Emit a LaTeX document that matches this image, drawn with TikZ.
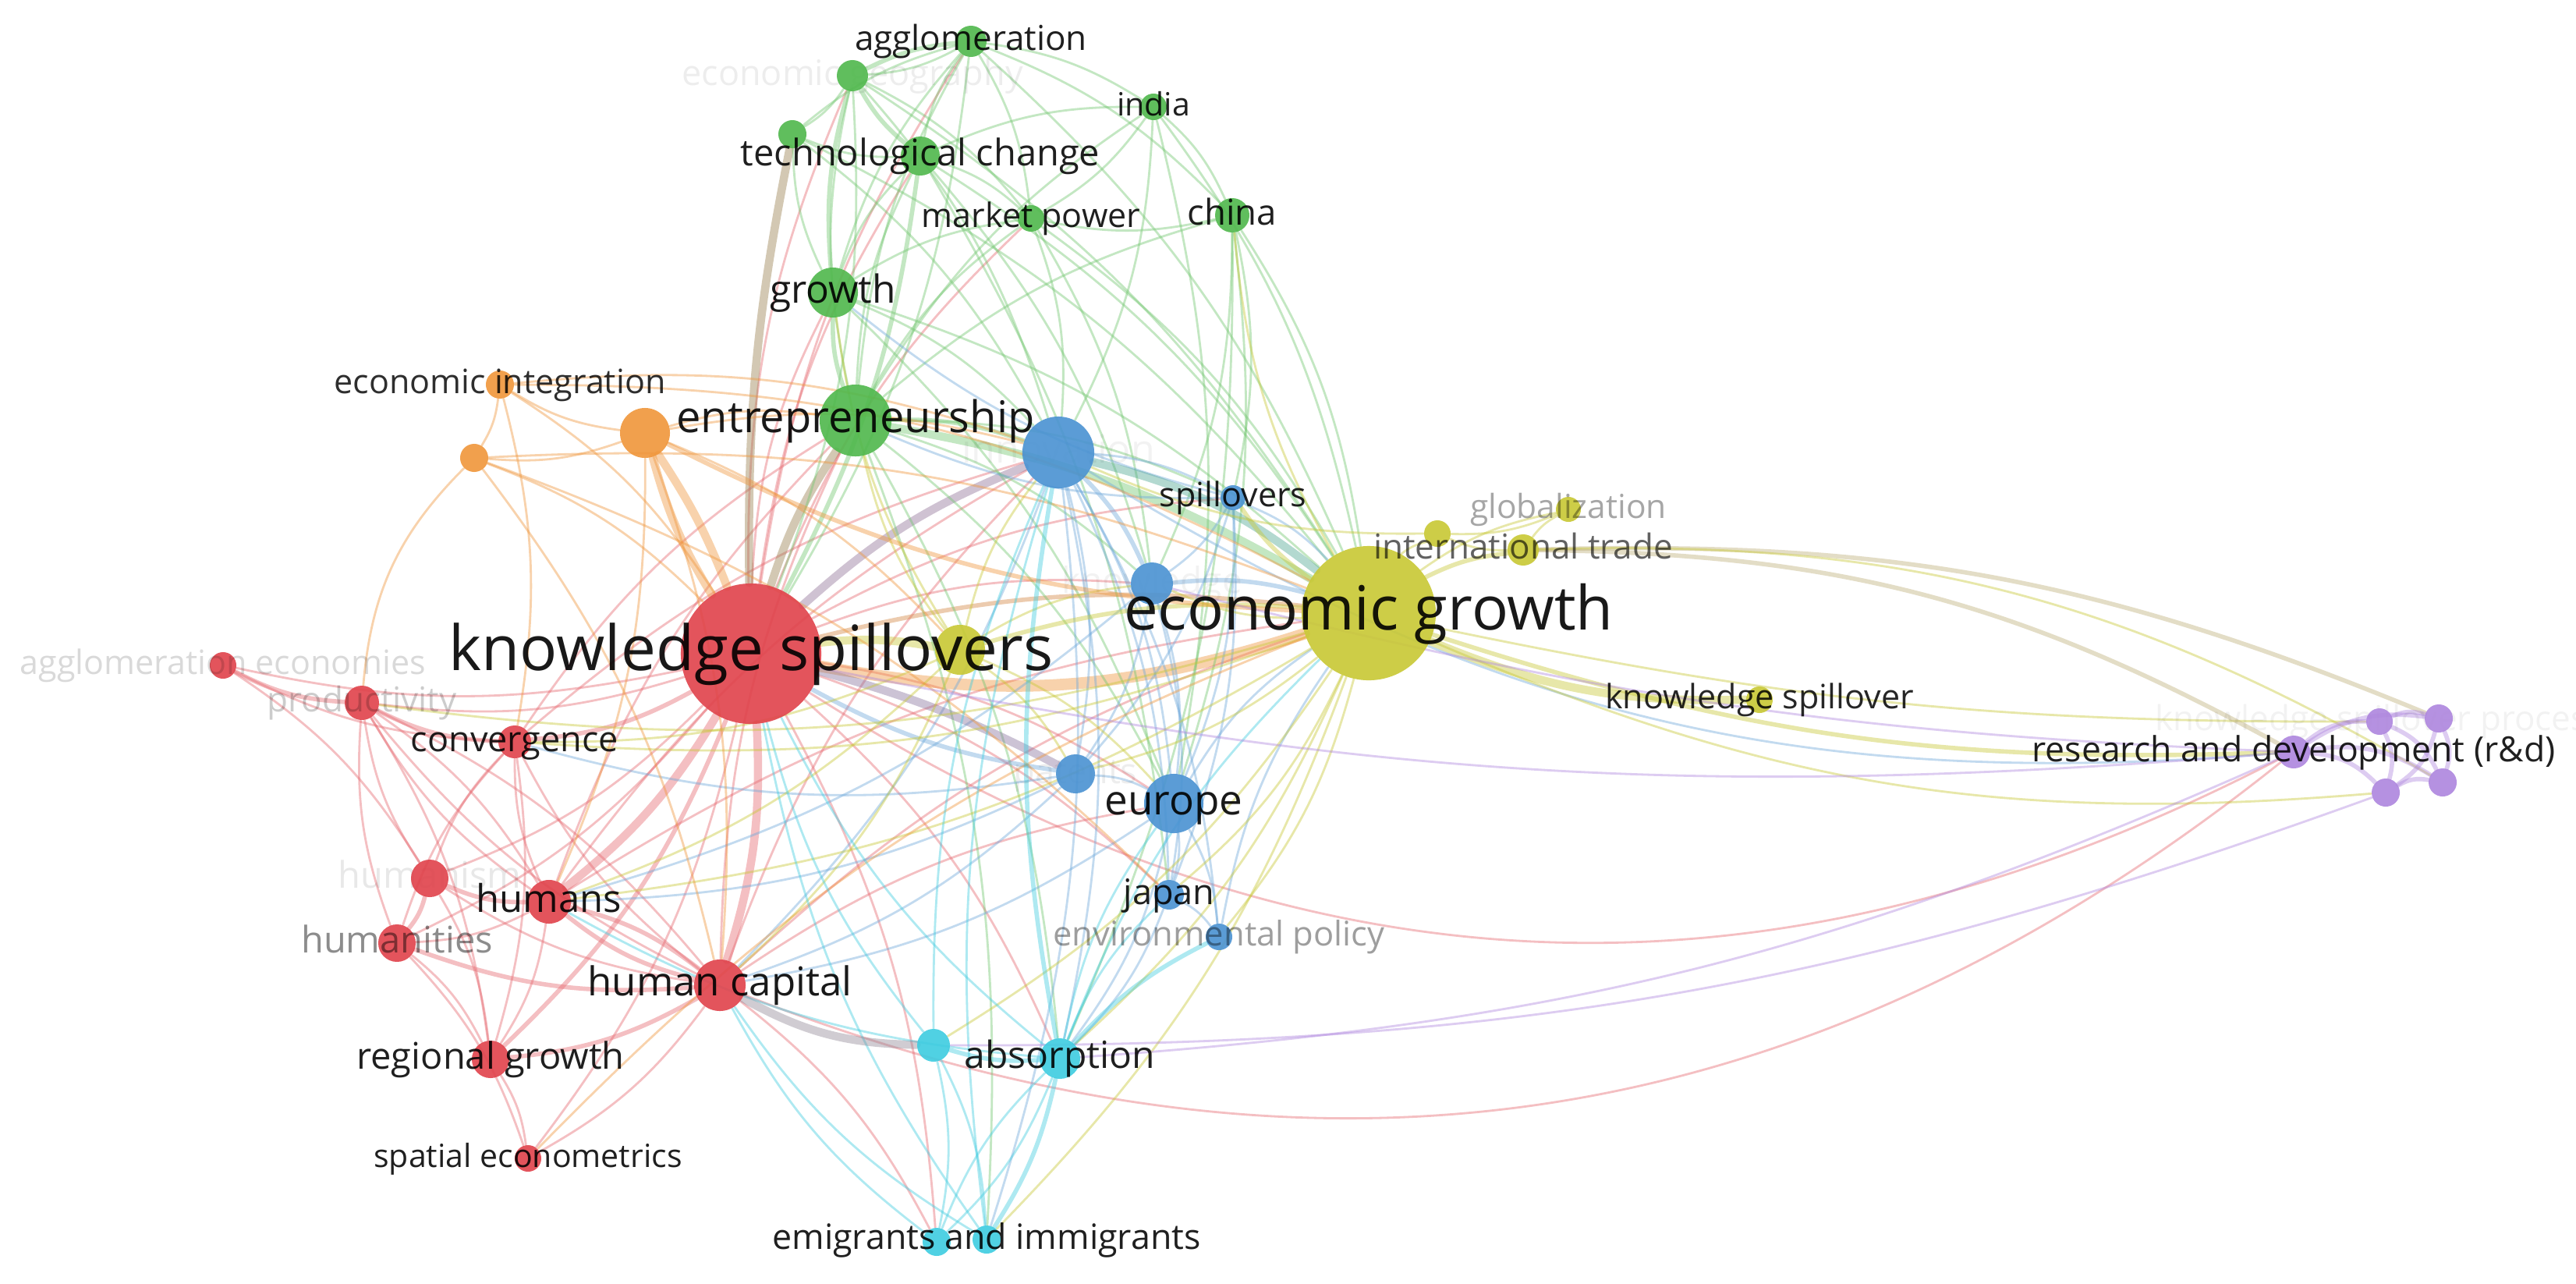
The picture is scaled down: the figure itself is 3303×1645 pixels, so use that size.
\documentclass[tikz,border=0pt]{standalone}
\usepackage{fontspec}
\setmainfont{Open Sans}
\usetikzlibrary{calc}
\pgfdeclarelayer{back}
\pgfdeclarelayer{bg}
\pgfsetlayers{back,bg,main}
\definecolor{cr}{HTML}{E0424B}
\definecolor{cg}{HTML}{4FB84C}
\definecolor{cb}{HTML}{4A92D2}
\definecolor{cy}{HTML}{C8C834}
\definecolor{co}{HTML}{F0963A}
\definecolor{cc}{HTML}{3ECCE0}
\definecolor{cp}{HTML}{AE86DE}
\tikzset{
  kwdot/.style={circle, inner sep=0pt, draw=none, fill opacity=0.9},
  lnk/.style={draw opacity=0.42, line cap=round},
  w1/.style={line width=0.8pt},
  w2/.style={line width=1.6pt},
  w3/.style={line width=3pt},
  w4/.style={line width=4.2pt},
  lr/.style={lnk, draw=cr!80},
  lg/.style={lnk, draw=cg!80},
  lb/.style={lnk, draw=cb!80},
  ly/.style={lnk, draw=cy},
  lo/.style={lnk, draw=co},
  lc/.style={lnk, draw=cc},
  lp/.style={lnk, draw=cp},
}
\newcommand\kwn[4]{\node[kwdot, fill=#4, minimum size=#3*0.02cm] (#1) at (#2) {};}
\newcommand\kwl[4]{%
  \pgfmathsetmacro\kwoff{0.27*#3}%
  \pgfmathsetmacro\kwfs{0.2845*#3}%
  \node[anchor=base, inner sep=0pt, text=black, text opacity=#4, font=\fontsize{\kwfs pt}{\kwfs pt}\selectfont] (#1-l) at ($(#1)+(0,\kwoff)$) {#2};}
\begin{document}
\begin{tikzpicture}[x=0.01cm, y=-0.01cm]
\useasboundingbox (0,0) rectangle (3303,1645);
\begin{pgfonlayer}{back}
\fill[white] (0,0) rectangle (3303,1645);
\end{pgfonlayer}
% ---------- nodes ----------
\kwn{ks}{963,838}{90}{cr}
\kwn{hc}{923,1263}{33}{cr}
\kwn{hum}{704,1156}{28}{cr}
\kwn{hism}{551,1126}{24}{cr}
\kwn{hities}{509,1209}{24}{cr}
\kwn{conv}{660,951}{21}{cr}
\kwn{prod}{464,901}{22}{cr}
\kwn{agec}{286,853}{17}{cr}
\kwn{rg}{629,1358}{24}{cr}
\kwn{se}{677,1485}{17}{cr}
\kwn{ent}{1097,539}{46}{cg}
\kwn{gro}{1068,375}{32}{cg}
\kwn{tc}{1180,200}{25}{cg}
\kwn{gone}{1016,172}{18}{cg}
\kwn{eg}{1093,97}{20}{cg}
\kwn{agg}{1245,53}{20}{cg}
\kwn{ind}{1479,137}{17}{cg}
\kwn{mp}{1322,280}{17}{cg}
\kwn{chi}{1580,276}{22}{cg}
\kwn{inn}{1357,580}{46}{cb}
\kwn{spl}{1581,638}{16}{cb}
\kwn{kn}{1477,748}{27}{cb}
\kwn{pat}{1379,992}{25}{cb}
\kwn{eur}{1505,1030}{38}{cb}
\kwn{jap}{1499,1147}{19}{cb}
\kwn{env}{1563,1201}{17}{cb}
\kwn{egr}{1755,786}{86}{cy}
\kwn{yone}{1231,833}{32}{cy}
\kwn{it}{1953,705}{20}{cy}
\kwn{glob}{2011,653}{16}{cy}
\kwn{ytwo}{1843,684}{17}{cy}
\kwn{ksp}{2256,897}{17}{cy}
\kwn{oone}{827,555}{32}{co}
\kwn{ei}{641,493}{18}{co}
\kwn{otwo}{608,587}{18}{co}
\kwn{abs}{1359,1357}{26}{cc}
\kwn{cone}{1197,1340}{21}{cc}
\kwn{emone}{1201,1592}{18}{cc}
\kwn{em}{1265,1589}{18}{cc}
\kwn{rd}{2941,964}{21}{cp}
\kwn{pone}{3051,925}{17}{cp}
\kwn{ptwo}{3127,921}{18}{cp}
\kwn{pthree}{3059,1016}{18}{cp}
\kwn{pfour}{3132,1003}{18}{cp}
% ---------- links ----------
\begin{pgfonlayer}{bg}
% red
\foreach \a/\b in {ks/hism,ks/hities,ks/prod,ks/agec,ks/se,ks/emone,ks/eur,ks/jap,ks/gro,ks/tc,ks/eg,ks/agg,ks/kn,ks/spl,ks/mp,ks/abs,
  hc/hism,hc/conv,hc/se,hc/prod,hc/emone,hc/egr,hc/ent,hc/eur,hum/hities,hum/conv,hum/prod,hum/rg,hum/egr,hum/ent,
  hism/prod,hism/conv,hism/rg,hities/prod,hities/rg,hities/conv,conv/agec,conv/rg,conv/ent,prod/rg,rg/se,agec/hism,
  prod/hc,conv/inn,hum/inn,hc/inn,hities/se,prod/hum}
  \draw[lr,w1] (\a) to[bend left=12] (\b);
\foreach \a/\b in {ks/rg,ks/conv,hc/rg,hism/hities,hum/hism,conv/prod,prod/agec,hc/hities,hc/hum,hum/hc}
  \draw[lr,w2] (\a) to[bend left=12] (\b);
\foreach \a/\b in {ks/hc,ks/hum}
  \draw[lr,w3] (\a) to[bend left=10] (\b);
\draw[lr,w1] (ks) to[bend right=30] (rd);
\draw[lr,w1] (hc) to[bend right=30] (rd);
% mixed thick
\draw[lnk,draw=co,w4] (ks) to[bend right=14] (egr);
\draw[lnk,draw=cr!50!cg,w3] (ks) to[bend left=8] (ent);
\draw[lnk,draw=cr!50!cg,w3] (ks) to[bend left=6] (gone);
\draw[lnk,draw=cr!45!cb,w3] (ks) to[bend left=10] (inn);
\draw[lnk,draw=cy,w3] (ks) to[bend left=8] (yone);
\draw[lnk,draw=co,w3] (ks) to[bend left=8] (oone);
\draw[lnk,draw=cr!50!cy,w2] (ks) to[bend left=10] (egr);
% green
\foreach \a/\b in {ent/tc,ent/eg,ent/agg,ent/ind,ent/mp,ent/chi,ent/kn,ent/spl,ent/eur,ent/abs,gro/tc,gro/agg,gro/gone,gro/egr,
  gro/inn,gro/mp,tc/agg,tc/gone,tc/mp,tc/egr,tc/ind,eg/gone,eg/mp,eg/egr,eg/inn,agg/ind,agg/mp,agg/chi,agg/egr,ind/chi,
  ind/egr,ind/mp,ind/inn,chi/egr,chi/mp,chi/eur,chi/kn,mp/inn,mp/egr,gone/egr,gone/inn,tc/jap,chi/abs,ent/em,
  gro/eur,eg/ks,agg/ks,tc/kn,mp/kn,agg/eg,gone/agg,ind/eur,chi/spl}
  \draw[lg,w1] (\a) to[bend left=12] (\b);
\foreach \a/\b in {ent/gro,eg/agg,tc/eg,gro/eg,ent/inn,tc/ks}
  \draw[lg,w2] (\a) to[bend left=10] (\b);
\draw[lg,w3] (ent) to[bend left=10] (egr);
% blue
\foreach \a/\b in {inn/spl,inn/pat,inn/eur,inn/jap,inn/env,inn/abs,spl/kn,spl/eur,spl/pat,spl/egr,kn/pat,kn/eur,kn/jap,pat/eur,
  eur/jap,eur/env,eur/egr,eur/abs,jap/env,jap/abs,env/egr,pat/hum,pat/conv,eur/hc,spl/ent,spl/gro,inn/hc,kn/hum,pat/hc,spl/jap,inn/em}
  \draw[lb,w1] (\a) to[bend left=12] (\b);
\draw[lb,w1] (inn) to[bend right=18] (rd);
\foreach \a/\b in {inn/kn,kn/egr,pat/ks}
  \draw[lb,w2] (\a) to[bend left=10] (\b);
\draw[lnk,draw=cb!50!cg,w3] (inn) to[bend left=12] (egr);
\draw[lnk,draw=cb!60!cr,w3] (pat) to[bend right=6] (ks);
% yellow
\foreach \a/\b in {egr/glob,egr/ytwo,yone/ent,yone/inn,yone/eur,it/ytwo,glob/ytwo,ytwo/inn,egr/abs,egr/em,egr/cone,egr/jap,
  egr/env,yone/conv,yone/hum,yone/hc,yone/kn,yone/pat,egr/kn,it/glob,egr/chi,egr/pat,egr/conv,egr/prod,yone/gro,egr/hum}
  \draw[ly,w1] (\a) to[bend left=12] (\b);
\foreach \a/\b in {egr/it,yone/egr,egr/spl}
  \draw[ly,w2] (\a) to[bend left=10] (\b);
\draw[ly,w3] (egr) to[bend right=12] (ksp);
\draw[ly,w2] (egr) to[bend right=10] (rd);
\draw[ly,w1] (egr) to[bend right=14] (pthree);
\draw[ly,w1] (egr) to[bend right=6] (pone);
\draw[lnk,draw=cy!60!cp,w2] (it) to[bend left=14] (rd);
\draw[lnk,draw=cy!60!cp,w2] (it) to[bend left=12] (ptwo);
\draw[ly,w1] (it) to[bend left=16] (pfour);
% orange
\foreach \a/\b in {oone/ent,oone/ei,oone/otwo,oone/inn,ei/otwo,ei/ks,otwo/ks,otwo/hc,otwo/egr,oone/hc,oone/hum,
  ei/conv,se/egr,otwo/jap,ei/inn,oone/yone}
  \draw[lo,w1] (\a) to[bend left=12] (\b);
\draw[lo,w1] (otwo) to[bend right=20] (prod);
\draw[lo,w1] (ei) to[bend left=14] (egr);
\draw[lo,w2] (oone) to[bend right=12] (egr);
\draw[lo,w3] (oone) to[bend left=6] (ks);
% cyan
\foreach \a/\b in {abs/emone,cone/emone,cone/em,abs/ks,abs/egr,abs/eur,abs/jap,cone/ks,cone/inn,emone/hc,em/ks,em/hc,abs/hum,emone/abs,em/inn}
  \draw[lc,w1] (\a) to[bend left=12] (\b);
\foreach \a/\b in {abs/cone,abs/em,abs/inn,abs/env}
  \draw[lc,w2] (\a) to[bend left=10] (\b);
\draw[lnk,draw=cc!50!cr,w3] (cone) to[bend left=14] (hc);
% purple
\foreach \a/\b in {rd/pone,rd/ptwo,rd/pthree,rd/pfour,pone/ptwo,pone/pthree,pone/pfour,ptwo/pthree,ptwo/pfour,pthree/pfour}
  \draw[lp,w2] (\a) to[bend left=20] (\b);
\draw[lp,w1] (rd) to[bend left=8] (ks);
\draw[lp,w1] (rd) to[bend left=10] (abs);
\draw[lp,w1] (pthree) to[bend left=10] (cone);
\draw[lp,w1] (rd) to[bend left=6] (kn);
% faint labels, under the nodes
\kwl{eg}{economic geography}{45}{0.07}
\kwl{pone}{knowledge spillover process}{44}{0.05}
\kwl{hism}{humanism}{47}{0.09}
\kwl{inn}{innovation}{50}{0.05}
\kwl{kn}{knowledge}{46}{0.05}
\kwl{pat}{patents}{45}{0.07}
\end{pgfonlayer}
% ---------- labels ----------
\kwl{ks}{knowledge spillovers}{80}{0.9}
\kwl{egr}{economic growth}{78}{0.9}
\kwl{ent}{entrepreneurship}{56}{0.9}
\kwl{eur}{europe}{53}{0.9}
\kwl{gro}{growth}{49.5}{0.9}
\kwl{hum}{humans}{49}{0.9}
\kwl{hc}{human capital}{51}{0.9}
\kwl{conv}{convergence}{45}{0.88}
\kwl{tc}{technological change}{47}{0.88}
\kwl{agg}{agglomeration}{44}{0.88}
\kwl{ind}{india}{41}{0.88}
\kwl{mp}{market power}{43}{0.88}
\kwl{chi}{china}{45.5}{0.88}
\kwl{ei}{economic integration}{43}{0.82}
\kwl{spl}{spillovers}{43}{0.88}
\kwl{glob}{globalization}{42.5}{0.35}
\kwl{it}{international trade}{44}{0.62}
\kwl{ksp}{knowledge spillover}{43}{0.85}
\kwl{rd}{research and development (r\&d)}{44.5}{0.88}
\kwl{agec}{agglomeration economies}{43}{0.15}
\kwl{prod}{productivity}{44}{0.2}
\kwl{hities}{humanities}{47}{0.45}
\kwl{rg}{regional growth}{47}{0.88}
\kwl{se}{spatial econometrics}{41}{0.88}
\kwl{abs}{absorption}{48}{0.88}
\kwl{jap}{japan}{45}{0.88}
\kwl{env}{environmental policy}{43.5}{0.38}
\kwl{em}{emigrants and immigrants}{44.7}{0.88}
\end{tikzpicture}
\end{document}
